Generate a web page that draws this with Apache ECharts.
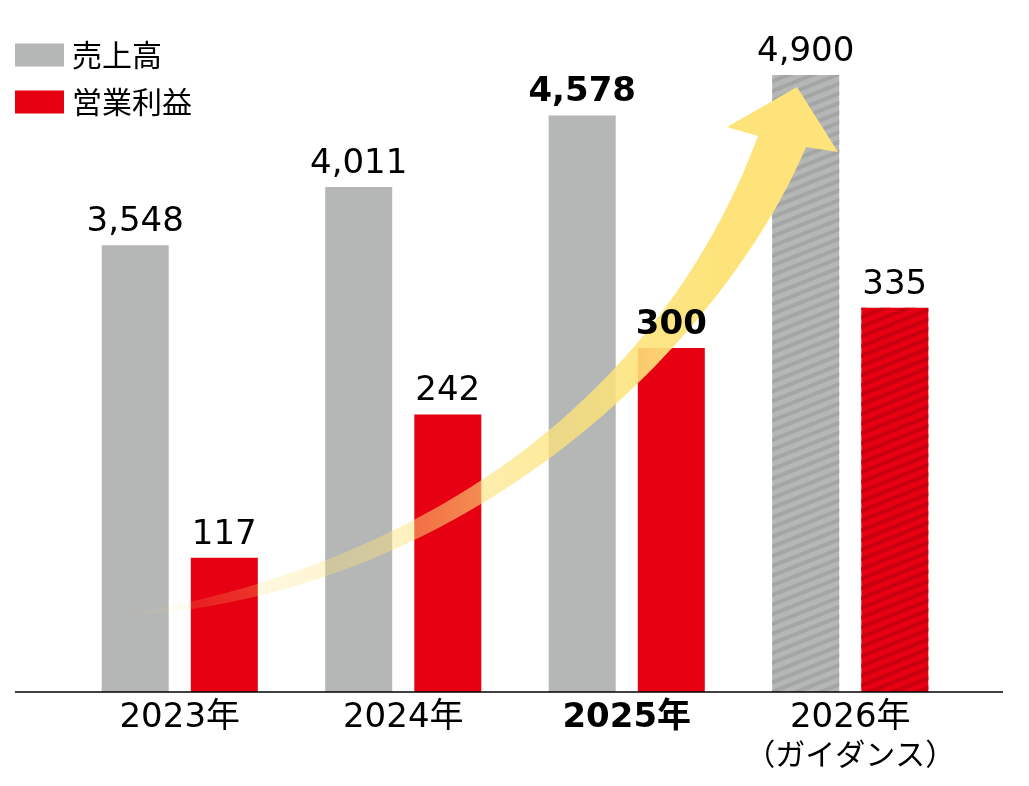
<!DOCTYPE html>
<html>
<head>
<meta charset="utf-8">
<script src="https://cdn.jsdelivr.net/npm/echarts@6/dist/echarts.min.js"></script>
<style>
  html, body { margin: 0; background: #fff; }
  #chart { width: 1029px; height: 786px; }
</style>
</head>
<body>
<div id="chart"></div>
<script>
// 売上高 / 営業利益 (億円)
const years = ['2023年', '2024年', '2025年', '2026年\n（ガイダンス）'];
const sales = [3548, 4011, 4578, 4900];
const profit = [117, 242, 300, 335];
const boldIndex = 2;      // 2025 actual, emphasised
const guidanceIndex = 3;  // 2026 guidance, hatched

const FONT = '"DejaVu Sans", "Noto Sans CJK JP", sans-serif';
const GRAY = '#b5b6b6';
const RED = '#e60012';

function makeData(values, stripe) {
  return values.map(function (v, i) {
    const item = { value: v };
    if (i === boldIndex) item.label = { fontWeight: 'bold' };
    if (i === guidanceIndex) {
      item.itemStyle = {
        decal: {
          symbol: 'rect', symbolSize: 1, color: stripe,
          dashArrayX: [1, 0], dashArrayY: [4, 5], rotation: -0.38
        }
      };
    }
    return item;
  });
}

const valueLabel = {
  show: true,
  position: 'top',
  distance: 6,
  color: '#000',
  fontSize: 34,
  fontFamily: FONT,
  formatter: function (p) { return p.value.toLocaleString('en-US'); }
};

// sample a cubic bezier into points
function bezier(p0, p1, p2, p3, n) {
  const pts = [];
  for (let i = 0; i <= n; i++) {
    const t = i / n, u = 1 - t;
    pts.push([
      u*u*u*p0[0] + 3*u*u*t*p1[0] + 3*u*t*t*p2[0] + t*t*t*p3[0],
      u*u*u*p0[1] + 3*u*u*t*p1[1] + 3*u*t*t*p2[1] + t*t*t*p3[1]
    ]);
  }
  return pts;
}

const arrowPts = []
  .concat(bezier([110, 617], [420, 570], [660, 400], [758, 136], 60))
  .concat([[727, 127], [797, 87], [838, 152]])
  .concat(bezier([806, 147], [729, 330], [480, 600], [110, 617], 60));

const chart = echarts.init(document.getElementById('chart'));
chart.setOption({
  animation: false,
  legend: {
    data: ['売上高', '営業利益'],
    orient: 'vertical',
    left: 15, top: 40,
    padding: 0,
    icon: 'rect',
    itemWidth: 49, itemHeight: 23, itemGap: 17,
    textStyle: { fontSize: 30, color: '#000', fontFamily: '"Noto Sans CJK JP", sans-serif', padding: [0, 0, 0, 3] }
  },
  grid: { left: 68, right: 67, top: 75, bottom: 94 },
  xAxis: {
    type: 'category',
    data: years,
    axisLine: { show: false },
    axisTick: { show: false },
    axisLabel: {
      margin: 8,
      formatter: function (v, i) {
        return v.split('\n').map(function (s, k) {
          const key = k ? 'g' : (i === boldIndex ? 'b' : 'n');
          return '{' + key + '|' + s + '}';
        }).join('\n');
      },
      rich: {
        n: { fontSize: 34, fontFamily: FONT, color: '#000', lineHeight: 36 },
        b: { fontSize: 34, fontFamily: FONT, color: '#000', lineHeight: 36, fontWeight: 'bold' },
        g: { fontSize: 30, fontFamily: '"Noto Sans CJK JP", sans-serif', color: '#000', lineHeight: 36 }
      }
    }
  },
  yAxis: [
    { type: 'value', min: 0, max: 4900, show: false },
    { type: 'value', min: 0, max: 538, show: false }
  ],
  series: [
    {
      name: '売上高', type: 'bar', yAxisIndex: 0,
      barWidth: 67, barGap: '33%',
      itemStyle: { color: GRAY },
      label: valueLabel,
      data: makeData(sales, '#a4a5a5')
    },
    {
      name: '営業利益', type: 'bar', yAxisIndex: 1,
      barWidth: 67, barGap: '33%',
      itemStyle: { color: RED },
      label: valueLabel,
      data: makeData(profit, '#c8000f')
    }
  ]
});

// baseline and growth arrow (decoration)
const axisY = chart.convertToPixel({ yAxisIndex: 0 }, 0);
chart.setOption({
  graphic: [
    {
      type: 'line', z: 3,
      shape: { x1: 15, y1: axisY, x2: 1003, y2: axisY },
      style: { stroke: '#000', lineWidth: 1.5 }
    },
    {
      type: 'polygon', z: 2, z2: 1,
      shape: { points: arrowPts },
      style: {
        fill: {
          type: 'linear', x: 110, y: 0, x2: 800, y2: 0, global: true,
          colorStops: [
            { offset: 0, color: 'rgba(253,227,122,0)' },
            { offset: 0.45, color: 'rgba(253,227,122,0.5)' },
            { offset: 0.68, color: 'rgba(253,227,122,0.8)' },
            { offset: 0.88, color: 'rgba(253,227,122,1)' },
            { offset: 1, color: 'rgba(253,227,122,1)' }
          ]
        }
      }
    }
  ]
});
</script>
</body>
</html>
